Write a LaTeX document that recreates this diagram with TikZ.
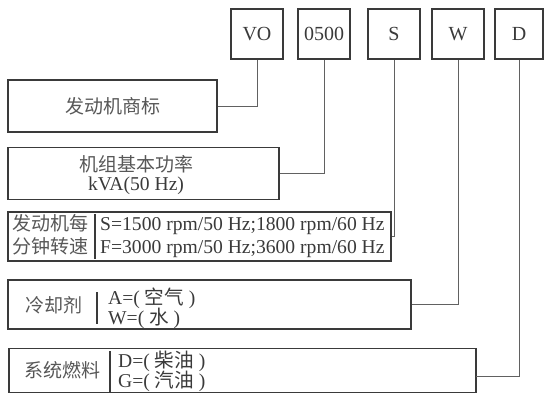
\documentclass[tikz,border=0pt]{standalone}
\usepackage{fontspec}
\setmainfont{Liberation Serif}
\newfontfamily\cjk{Noto Sans CJK SC}
\definecolor{ink}{HTML}{3A3A3A}
\begin{document}
\begin{tikzpicture}[x=1pt,y=-1pt,
  box/.style={draw=ink, line width=1.3pt, inner sep=0pt},
  code/.style={box, minimum width=52pt, minimum height=50pt, text=ink, font=\fontsize{20}{22}\selectfont},
  conn/.style={draw=ink!80, line width=0.8pt},
  divider/.style={draw=ink, line width=1.3pt},
  lat/.style={text=ink, font=\fontsize{19.6}{20}\selectfont, inner sep=0pt},
  cn/.style={text=ink!85, font=\fontsize{19}{20}\selectfont\cjk, inner sep=0pt}]
\useasboundingbox (0,0) rectangle (544,393);
% code boxes
\node[code] (vo) at (257,34) {VO};
\node[code] (p) at (324,34) {0500};
\node[code] (s) at (394,34) {S};
\node[code] (w) at (458,34) {W};
\node[code, minimum width=48pt] (d) at (519,34) {D};
% description boxes
\node[box, minimum width=209pt, minimum height=52pt] (b1) at (112.5,106) {};
\node[cn] (t1) at (b1.center) {发动机商标};
\node[box, minimum width=271pt, minimum height=52pt] (b2) at (143.5,173.5) {};
\node[cn, anchor=center] (t2a) at (136,164.5) {机组基本功率};
\node[lat, anchor=base] (t2b) at (136,190) {kVA(50 Hz)};
\node[box, minimum width=383pt, minimum height=49pt] (b3) at (199.5,236.5) {};
\node[cn, anchor=base west] (t3a) at (12,230.5) {发动机每};
\node[cn, anchor=base west] (t3b) at (12,254) {分钟转速};
\node[lat, anchor=base west] (t3c) at (100,230) {S=1500 rpm/50 Hz;1800 rpm/60 Hz};
\node[lat, anchor=base west] (t3d) at (100,253.5) {F=3000 rpm/50 Hz;3600 rpm/60 Hz};
\coordinate (d3t) at (95,214);
\coordinate (d3b) at (95,259);
\draw[divider] (d3t) -- (d3b);
\node[box, minimum width=403pt, minimum height=49pt] (b4) at (209.5,304.5) {};
\node[cn] (t4a) at (54,305) {冷却剂};
\node[lat, anchor=base west] (t4b) at (108,304) {A=( {\cjk 空气} )};
\node[lat, anchor=base west] (t4c) at (108,324.5) {W=( {\cjk 水} )};
\coordinate (d4t) at (97,292);
\coordinate (d4b) at (97,324);
\draw[divider] (d4t) -- (d4b);
\node[box, minimum width=467pt, minimum height=44pt] (b5) at (242.5,370.5) {};
\node[cn] (t5a) at (62.5,370) {系统燃料};
\node[lat, anchor=base west] (t5b) at (118,367) {D=( {\cjk 柴油} )};
\node[lat, anchor=base west] (t5c) at (118,387.5) {G=( {\cjk 汽油} )};
\coordinate (d5t) at (110,351);
\coordinate (d5b) at (110,393);
\draw[divider] (d5t) -- (d5b);
% connectors
\draw[conn] (b1.east) -| (vo.south);
\draw[conn] (b2.east) -| (p.south);
\draw[conn] (b3.east) -| (s.south);
\draw[conn] (b4.east) -| (w.south);
\coordinate (c5) at (476,376);
\draw[conn] (c5) -| (d.south);
\end{tikzpicture}
\end{document}
